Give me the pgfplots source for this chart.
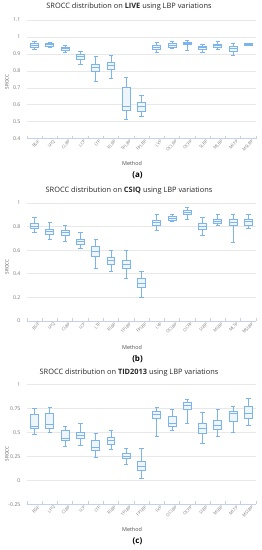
\documentclass[border=0pt]{standalone}
\usepackage{pgfplots}
\pgfplotsset{compat=1.18}
\usepgfplotslibrary{statistics}
\usepackage{fontspec}
\setmainfont{Open Sans}
\definecolor{boxcol}{RGB}{125,180,236}
\definecolor{boxfill}{RGB}{238,245,253}
\definecolor{gridcol}{RGB}{232,232,232}
\definecolor{axcol}{RGB}{196,210,232}
\definecolor{lblcol}{RGB}{120,120,120}
\newcommand{\bp}[6]{\addplot[draw=boxcol, fill=boxfill, line width=0.9pt, solid,
  boxplot prepared={draw position=#1, lower whisker=#2, lower quartile=#3,
  median=#4, upper quartile=#5, upper whisker=#6}] coordinates {};}
\pgfplotsset{
  panel/.style={
    scale only axis, width=229pt, anchor=south west,
    xmin=-0.5, xmax=14.5,
    cycle list={{draw=boxcol,fill=boxfill}},
    axis x line*=bottom, axis y line*=left,
    y axis line style={draw=none},
    x axis line style={draw=axcol, line width=0.7pt, -},
    ymajorgrids, grid style={draw=gridcol, line width=0.6pt},
    xtick={0,...,14},
    xticklabels={BSIF,LPQ,CLBP,LCP,LTP,RLBP,TPLBP,FPLBP,LVP,OCLBP,OCPP,SLBP,MLBP,MLTP,MSLBP},
    minor xtick={-0.5,0.5,...,14.5},
    major tick length=0pt, minor tick length=3pt, tick align=inside,
    minor tick style={draw=axcol, line width=0.6pt},
    xticklabel style={rotate=45, anchor=north east, font=\fontsize{4.2}{5}\selectfont, text=lblcol, inner sep=0.4pt, xshift=2pt, yshift=-2.5pt},
    yticklabel style={font=\fontsize{5.2}{6}\selectfont, text=lblcol, anchor=east, xshift=-3pt},
    boxplot/draw direction=y,
    boxplot/box extend=0.52, boxplot/whisker extend=0.28,
    boxplot/every box/.style={draw=boxcol, fill=boxfill, line width=0.9pt},
    boxplot/every whisker/.style={draw=boxcol, line width=0.9pt},
    boxplot/every median/.style={draw=boxcol, line width=1pt},
    clip=false,
  }
}
\begin{document}
\begin{tikzpicture}
\path[use as bounding box] (0,0) rectangle (262pt,550pt);
% ---------------- (a) LIVE
\begin{axis}[panel, at={(27pt,411.3pt)}, height=118.7pt, ymin=0.4, ymax=1.1,
  ytick={0.4,0.5,0.6,0.7,0.8,0.9,1,1.1}, yticklabels={0.4,0.5,0.6,0.7,0.8,0.9,1,1.1}]
\bp{0}{0.929}{0.939}{0.949}{0.961}{0.972}
\bp{1}{0.937}{0.943}{0.953}{0.961}{0.968}
\bp{2}{0.909}{0.921}{0.929}{0.937}{0.951}
\bp{3}{0.838}{0.870}{0.884}{0.897}{0.917}
\bp{4}{0.740}{0.795}{0.818}{0.838}{0.884}
\bp{5}{0.755}{0.809}{0.830}{0.850}{0.890}
\bp{6}{0.515}{0.568}{0.588}{0.700}{0.760}
\bp{7}{0.532}{0.562}{0.588}{0.613}{0.653}
\bp{8}{0.911}{0.927}{0.939}{0.949}{0.966}
\bp{9}{0.933}{0.941}{0.951}{0.961}{0.974}
\bp{10}{0.923}{0.953}{0.961}{0.968}{0.980}
\bp{11}{0.911}{0.927}{0.937}{0.945}{0.957}
\bp{12}{0.929}{0.939}{0.947}{0.957}{0.972}
\bp{13}{0.890}{0.913}{0.931}{0.945}{0.964}
\bp{14}{0.947}{0.951}{0.955}{0.959}{0.964}
\end{axis}
% ---------------- (b) CSIQ
\begin{axis}[panel, at={(27pt,229pt)}, height=118pt, ymin=0, ymax=1,
  ytick={0,0.2,0.4,0.6,0.8,1}, yticklabels={0,0.2,0.4,0.6,0.8,1}]
\bp{0}{0.754}{0.782}{0.805}{0.825}{0.876}
\bp{1}{0.692}{0.737}{0.760}{0.777}{0.839}
\bp{2}{0.672}{0.726}{0.748}{0.768}{0.811}
\bp{3}{0.618}{0.649}{0.672}{0.689}{0.751}
\bp{4}{0.443}{0.551}{0.587}{0.630}{0.689}
\bp{5}{0.420}{0.483}{0.514}{0.539}{0.599}
\bp{6}{0.361}{0.446}{0.483}{0.517}{0.599}
\bp{7}{0.200}{0.282}{0.316}{0.361}{0.420}
\bp{8}{0.771}{0.811}{0.833}{0.853}{0.904}
\bp{9}{0.847}{0.856}{0.870}{0.884}{0.907}
\bp{10}{0.859}{0.901}{0.918}{0.935}{0.960}
\bp{11}{0.726}{0.780}{0.802}{0.828}{0.876}
\bp{12}{0.808}{0.825}{0.847}{0.864}{0.907}
\bp{13}{0.664}{0.808}{0.836}{0.859}{0.907}
\bp{14}{0.788}{0.813}{0.839}{0.859}{0.901}
\end{axis}
% ---------------- (c) TID2013
\begin{axis}[panel, at={(27pt,45.7pt)}, height=120pt, ymin=-0.25, ymax=1,
  ytick={-0.25,0,0.25,0.5,0.75,1}, yticklabels={-0.25,0,0.25,0.5,0.75,1}]
\bp{0}{0.476}{0.535}{0.5625}{0.681}{0.750}
\bp{1}{0.503}{0.542}{0.583}{0.698}{0.764}
\bp{2}{0.354}{0.410}{0.431}{0.521}{0.5625}
\bp{3}{0.358}{0.431}{0.469}{0.500}{0.594}
\bp{4}{0.243}{0.306}{0.344}{0.410}{0.490}
\bp{5}{0.326}{0.375}{0.413}{0.448}{0.517}
\bp{6}{0.163}{0.226}{0.253}{0.278}{0.330}
\bp{7}{0.021}{0.104}{0.142}{0.194}{0.330}
\bp{8}{0.458}{0.642}{0.681}{0.712}{0.757}
\bp{9}{0.524}{0.5625}{0.594}{0.663}{0.740}
\bp{10}{0.597}{0.740}{0.778}{0.806}{0.840}
\bp{11}{0.389}{0.483}{0.542}{0.594}{0.708}
\bp{12}{0.458}{0.528}{0.576}{0.625}{0.740}
\bp{13}{0.503}{0.615}{0.701}{0.715}{0.771}
\bp{14}{0.573}{0.646}{0.698}{0.767}{0.851}
\end{axis}
% ---------------- titles and labels
\begin{scope}[every node/.style={inner sep=0pt}]
\node[font=\fontsize{7.4}{9}\selectfont, text=black!85] at (129pt,543pt) {SROCC distribution on \textbf{LIVE} using LBP variations};
\node[font=\fontsize{7.4}{9}\selectfont, text=black!85] at (129pt,359pt) {SROCC distribution on \textbf{CSIQ} using LBP variations};
\node[font=\fontsize{7.4}{9}\selectfont, text=black!85] at (129pt,177pt) {SROCC distribution on \textbf{TID2013} using LBP variations};
\node[font=\fontsize{5.4}{6}\selectfont, text=black!70] at (132pt,387pt) {Method};
\node[font=\fontsize{5.4}{6}\selectfont, text=black!70] at (132pt,203pt) {Method};
\node[font=\fontsize{5.4}{6}\selectfont, text=black!70] at (132pt,21pt) {Method};
\node[font=\fontsize{4.6}{5}\selectfont, text=black!70, rotate=90] at (7pt,468pt) {SROCC};
\node[font=\fontsize{4.6}{5}\selectfont, text=black!70, rotate=90] at (7pt,283pt) {SROCC};
\node[font=\fontsize{4.6}{5}\selectfont, text=black!70, rotate=90] at (7pt,96pt) {SROCC};
\node[font=\fontsize{8}{9}\selectfont\bfseries] at (137.5pt,375pt) {(a)};
\node[font=\fontsize{8}{9}\selectfont\bfseries\rmfamily] at (137.5pt,191pt) {(b)};
\node[font=\fontsize{8}{9}\selectfont\bfseries] at (137.5pt,9pt) {(c)};
\end{scope}
\end{tikzpicture}
\end{document}
